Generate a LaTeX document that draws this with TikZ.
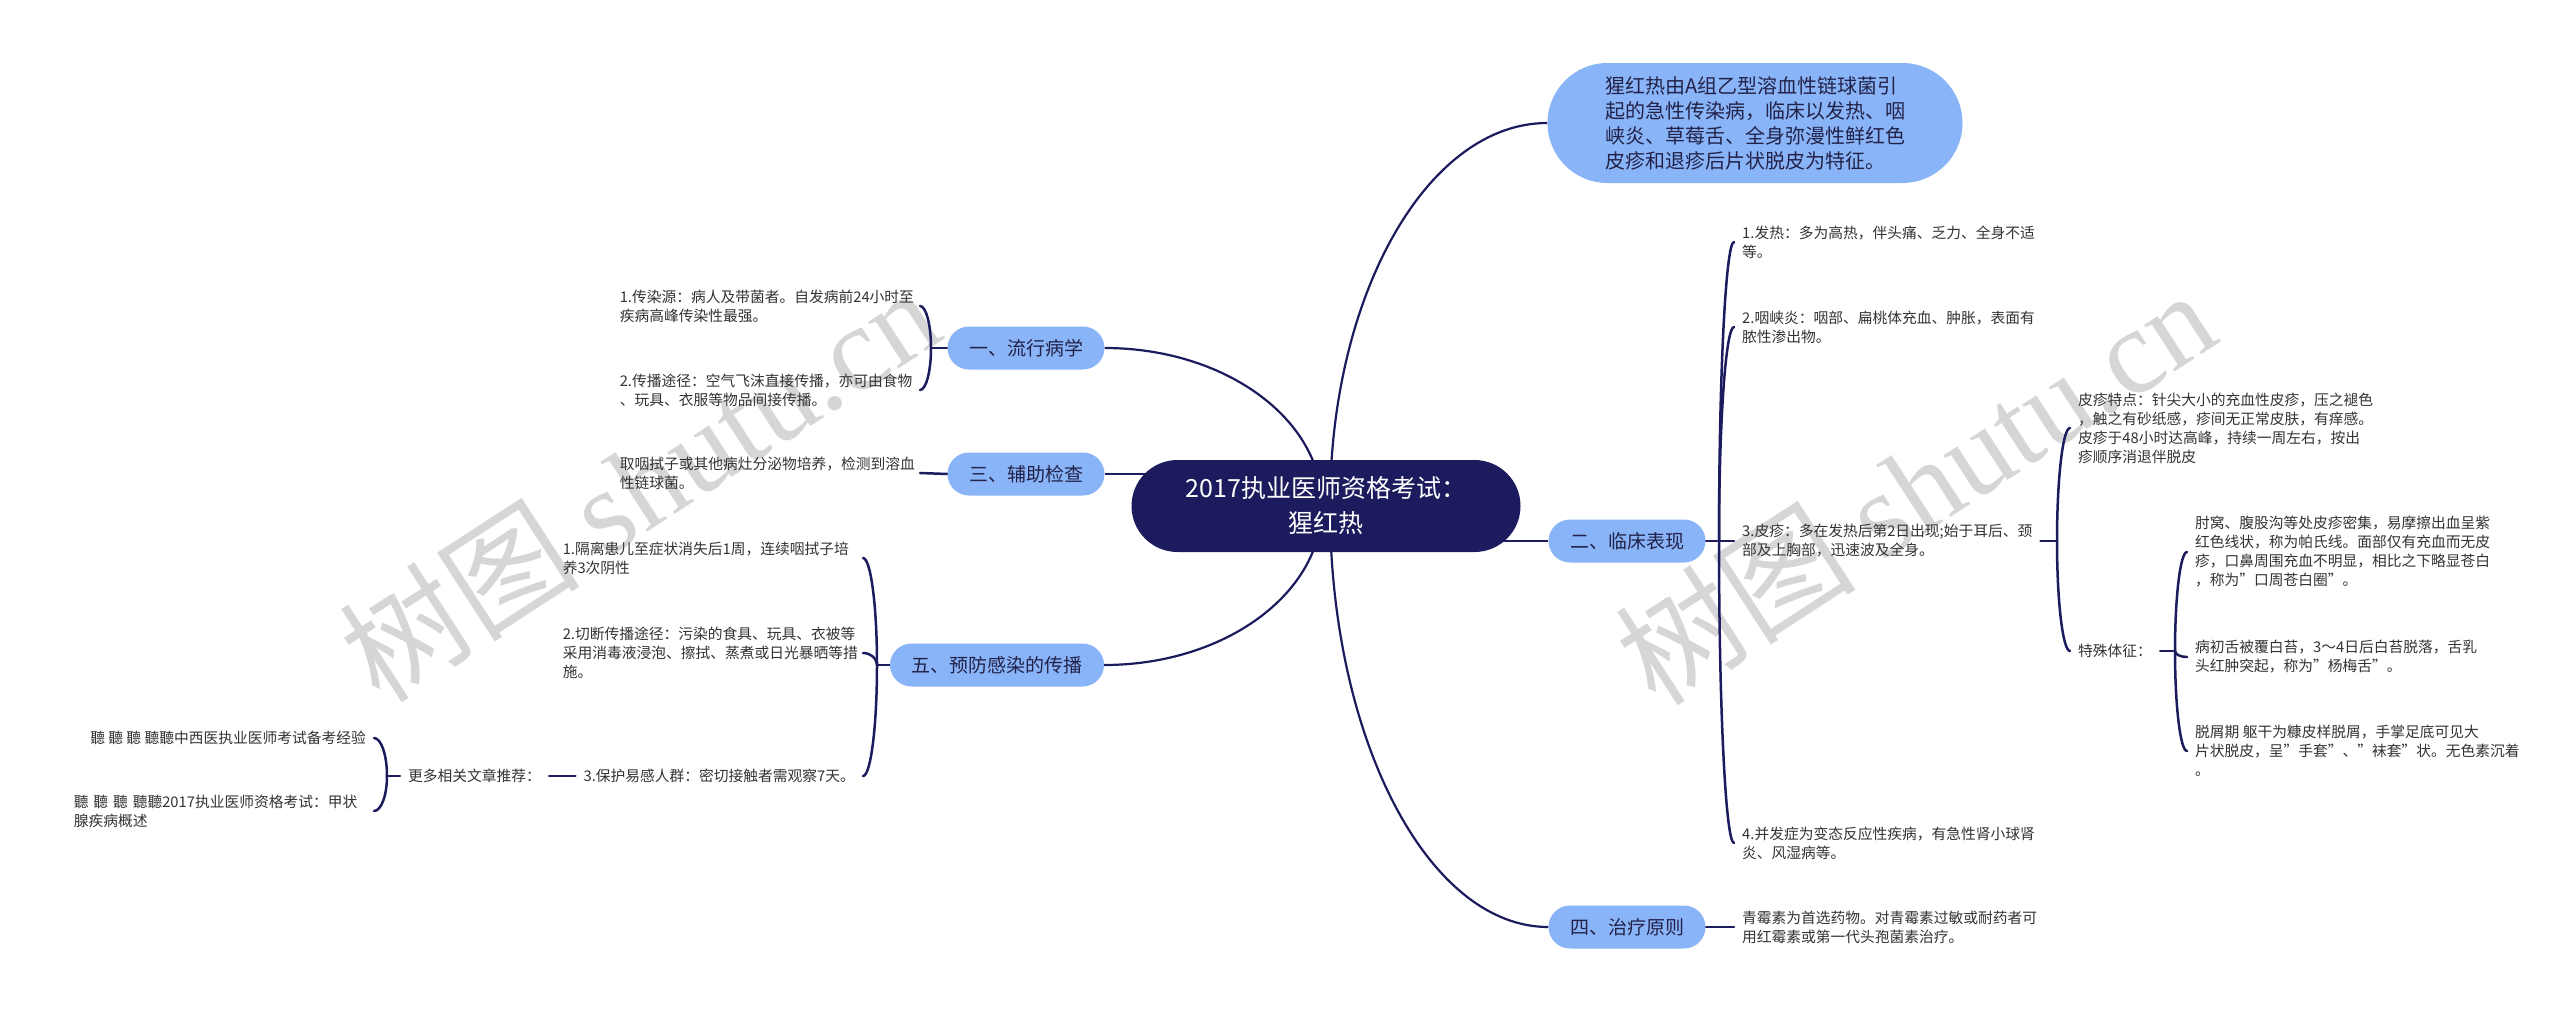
\documentclass[tikz,border=0pt]{standalone}
\usepackage{fontspec}
\setmainfont{Noto Sans CJK SC}
\newfontfamily\wmlatin{Liberation Serif}
\usetikzlibrary{calc}
\pgfdeclarelayer{bg}
\pgfsetlayers{bg,main}
\definecolor{navy}{RGB}{27,27,94}
\definecolor{lblue}{RGB}{138,180,248}
\definecolor{btext}{RGB}{34,34,72}
\definecolor{ltext}{RGB}{51,51,51}
\definecolor{wm}{RGB}{214,214,214}
\tikzset{
  root/.style={rectangle, rounded corners=46pt, fill=navy, text=white, minimum width=389pt, minimum height=92pt, align=center, inner sep=0pt, font=\fontsize{25}{35}\selectfont},
  summary/.style={rectangle, rounded corners=60pt, fill=lblue, text=btext, minimum width=415pt, minimum height=120pt, align=left, inner sep=0pt, font=\fontsize{20}{25}\selectfont},
  topic/.style={rectangle, rounded corners=21.5pt, fill=lblue, text=btext, minimum width=157pt, minimum height=43pt, inner sep=0pt, font=\fontsize{19}{23}\selectfont},
  leafR/.style={anchor=west, align=left, text=ltext, inner xsep=8pt, inner ysep=0pt, font=\fontsize{14.75}{19}\selectfont},
  leafN/.style={align=left, text=ltext, inner xsep=8pt, inner ysep=0pt, font=\fontsize{14.75}{19}\selectfont},
  leafL/.style={anchor=east, align=left, text width=292pt, text=ltext, inner xsep=8pt, inner ysep=0pt, font=\fontsize{14.75}{19}\selectfont},
  link/.style={draw=navy, line width=2.2pt},
  brace/.style={draw=navy, line width=2.5pt, line cap=round},
  qc/.style={to path={.. controls ($(\tikztostart)!0.552!(\tikztostart|-\tikztotarget)$) and ($(\tikztotarget)!0.552!(\tikztostart|-\tikztotarget)$) .. (\tikztotarget)}},
  wmark/.style={rotate=33, anchor=base west, text=wm, inner sep=0pt, font=\fontsize{121}{121}\selectfont}
}
\begin{document}
\begin{tikzpicture}[x=1pt,y=-1pt]
\useasboundingbox (0,0) rectangle (2560,1017);
% main nodes
\node[root] (root) at (1326,506) {2017执业医师资格考试：\\猩红热};
\node[summary] (sum) at (1755,123) {猩红热由A组乙型溶血性链球菌引\\起的急性传染病，临床以发热、咽\\峡炎、草莓舌、全身弥漫性鲜红色\\皮疹和退疹后片状脱皮为特征。};
\node[topic] (t1) at (1026,348) {一、流行病学};
\node[topic] (t3) at (1026,474) {三、辅助检查};
\node[topic, minimum width=214pt] (t5) at (997,665) {五、预防感染的传播};
\node[topic] (t2) at (1627,541) {二、临床表现};
\node[topic] (t4) at (1627,927) {四、治疗原则};
% right leaves
\node[leafR] (L1) at (1734,242) {1.发热：多为高热，伴头痛、乏力、全身不适\\等。};
\node[leafR] (L2) at (1734,327) {2.咽峡炎：咽部、扁桃体充血、肿胀，表面有\\脓性渗出物。};
\node[leafR] (L3) at (1734,541) {3.皮疹：多在发热后第2日出现;始于耳后、颈\\部及上胸部，迅速波及全身。};
\node[leafR] (L4) at (1734,843) {4.并发症为变态反应性疾病，有急性肾小球肾\\炎、风湿病等。};
\node[leafR] (T4L) at (1734,927) {青霉素为首选药物。对青霉素过敏或耐药者可\\用红霉素或第一代头孢菌素治疗。};
\node[leafR] (P1) at (2070,428) {皮疹特点：针尖大小的充血性皮疹，压之褪色\\，触之有砂纸感，疹间无正常皮肤，有痒感。\\皮疹于48小时达高峰，持续一周左右，按出\\疹顺序消退伴脱皮};
\node[leafR] (P2) at (2070,651) {特殊体征：};
\node[leafR] (S1) at (2187,552) {肘窝、腹股沟等处皮疹密集，易摩擦出血呈紫\\红色线状，称为帕氏线。面部仅有充血而无皮\\疹，口鼻周围充血不明显，相比之下略显苍白\\，称为"口周苍白圈"。};
\node[leafR] (S2) at (2187,657) {病初舌被覆白苔，3～4日后白苔脱落，舌乳\\头红肿突起，称为"杨梅舌"。};
\node[leafR] (S3) at (2187,751) {脱屑期 躯干为糠皮样脱屑，手掌足底可见大\\片状脱皮，呈"手套"、"袜套"状。无色素沉着\\。};
% left leaves
\node[leafL] (E1) at (920,306) {1.传染源：病人及带菌者。自发病前24小时至\\疾病高峰传染性最强。};
\node[leafL] (E2) at (920,390) {2.传播途径：空气飞沫直接传播，亦可由食物\\、玩具、衣服等物品间接传播。};
\node[leafL] (A1) at (920,473) {取咽拭子或其他病灶分泌物培养，检测到溶血\\性链球菌。};
\node[leafL] (F1) at (863,558) {1.隔离患儿至症状消失后1周，连续咽拭子培\\养3次阴性};
\node[leafL] (F2) at (863,653) {2.切断传播途径：污染的食具、玩具、衣被等\\采用消毒液浸泡、擦拭、蒸煮或日光暴晒等措\\施。};
\node[leafN, anchor=east] (F3) at (863,776) {3.保护易感人群：密切接触者需观察7天。};
\node[leafR] (M) at (400,776) {更多相关文章推荐：};
\node[leafN, anchor=east] (M1) at (374,738) {聽 聽 聽 聽聽中西医执业医师考试备考经验};
\node[leafL] (M2) at (374,811) {聽 聽 聽 聽聽2017执业医师资格考试：甲状\\腺疾病概述};
% junctions
\coordinate (c1) at (1322,506);
\coordinate (c2) at (1330,506);
\coordinate (J1) at (931,348);
\coordinate (J5) at (877,665);
\coordinate (J6) at (387,776);
\coordinate (J2) at (1719,541);
\coordinate (J3) at (2057,541);
\coordinate (J4) at (2175,651);
\begin{pgfonlayer}{bg}
\fill[white] (0,0) rectangle (2560,1017);
\node[wmark] (wm1) at (380,706) {树图 {\wmlatin shutu.cn}};
\node[wmark] (wm2) at (1656,709) {树图 {\wmlatin shutu.cn}};
% central links
\draw[link] (c2) to[qc] (sum.west);
\draw[link] (c1) to[qc] (t1.east);
\draw[link] (c1) to[qc] (t5.east);
\draw[link] (c2) to[qc] (t4.west);
\draw[link] (t3.east) -- (t3.east -| root.center);
\draw[link] (t2.west) -- (t2.west -| root.center);
% right branches
\draw[brace] (t2.east) -- (L3.west);
\draw[brace] (J2) to[qc] (L1.west);
\draw[brace] (J2) to[qc] (L2.west);
\draw[brace] (J2) to[qc] (L4.west);
\draw[brace] (t4.east) -- (T4L.west);
\draw[brace] (L3.east) -- (J3);
\draw[brace] (J3) to[qc] (P1.west);
\draw[brace] (J3) to[qc] (P2.west);
\draw[brace] (P2.east) -- (J4);
\draw[brace] (J4) to[qc] (S1.west);
\draw[brace] (J4) to[qc] (S2.west);
\draw[brace] (J4) to[qc] (S3.west);
% left branches
\draw[brace] (t1.west) -- (J1);
\draw[brace] (J1) to[qc] (E1.east);
\draw[brace] (J1) to[qc] (E2.east);
\draw[brace] (t3.west) -- (A1.east);
\draw[brace] (t5.west) -- (J5);
\draw[brace] (J5) to[qc] (F1.east);
\draw[brace] (J5) to[qc] (F2.east);
\draw[brace] (J5) to[qc] (F3.east);
\draw[brace] (F3.west) -- (M.east);
\draw[brace] (M.west) -- (J6);
\draw[brace] (J6) to[qc] (M1.east);
\draw[brace] (J6) to[qc] (M2.east);
\end{pgfonlayer}
\end{tikzpicture}
\end{document}
